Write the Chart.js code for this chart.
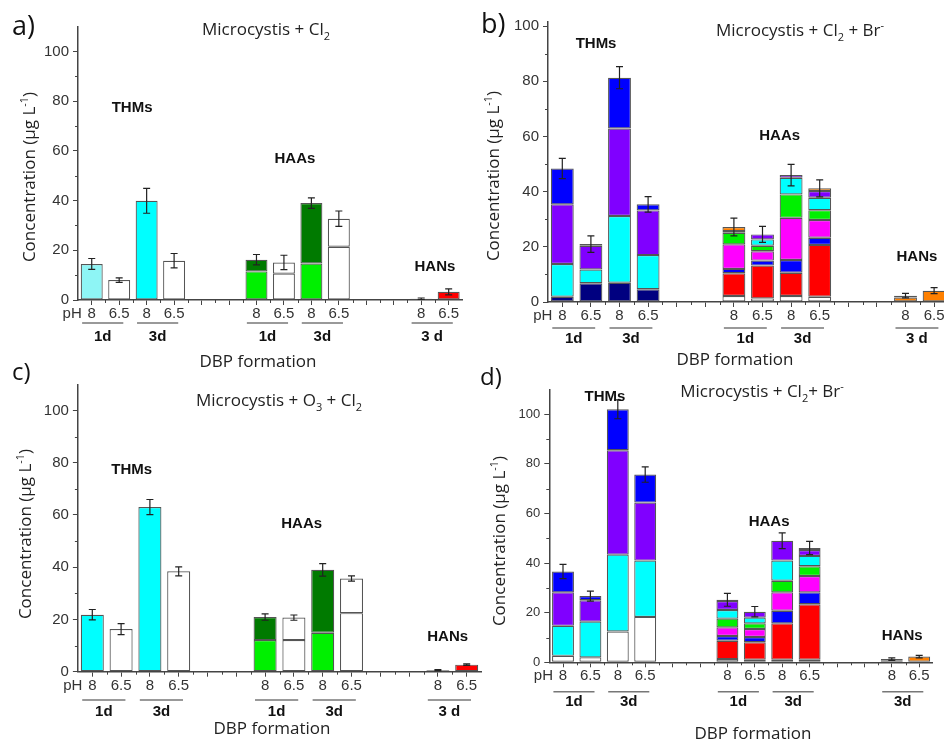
<!DOCTYPE html>
<html>
<head>
<meta charset="utf-8">
<title>DBP formation</title>
<script src="https://cdn.jsdelivr.net/npm/chart.js@4.4.1/dist/chart.umd.min.js"></script>
<style>
  html, body { margin: 0; padding: 0; background: #fff; width: 944px; height: 742px; overflow: hidden; }
  .panel { position: absolute; }
</style>
</head>
<body>
<div class="panel" style="left:0;top:0;width:470px;height:370px"><canvas id="ca"></canvas></div>
<div class="panel" style="left:470px;top:0;width:480px;height:370px"><canvas id="cb"></canvas></div>
<div class="panel" style="left:0;top:350px;width:490px;height:392px"><canvas id="cc"></canvas></div>
<div class="panel" style="left:470px;top:350px;width:474px;height:392px"><canvas id="cd"></canvas></div>
<script>
(function () {
  "use strict";

  // ---- categories (14 slots on the x axis, pH of each bar) ----
  const N_SLOTS = 14;
  const X_LABELS = ["8", "6.5", "8", "6.5", "", "", "8", "6.5", "8", "6.5", "", "", "8", "6.5"];
  const Y_TICKS = [0, 20, 40, 60, 80, 100];
  const THM_SLOTS = [0, 1, 2, 3];
  const HAA_SLOTS = [6, 7, 8, 9];
  const HAN_SLOTS = [12, 13];
  const DAY_PAIRS = [[0, 1, "1d"], [2, 3, "3d"], [6, 7, "1d"], [8, 9, "3d"], [12, 13, "3 d"]];
  const GROUP_NAMES = ["THMs", "HAAs", "HANs"];

  // ---- a) Microcystis + Cl2 (segment heights, µg/L) ----
  const a_thm_lightcyan = [14.5, null, null, null];
  const a_thm_cyan = [null, null, 39.9, null];
  const a_thm_white = [null, 8.0, null, 15.8];
  const a_haa_lime = [11.5, null, 14.7, null];
  const a_haa_white1 = [null, 10.6, null, 21.4];
  const a_haa_green = [4.7, null, 24.3, null];
  const a_haa_white2 = [null, 4.5, null, 11.3];
  const a_han_red = [0.5, 3.3];
  const a_err_thm = [2.2, 0.9, 5.0, 2.9];
  const a_err_haa = [2.1, 2.9, 2.1, 3.1];
  const a_err_han = [0.3, 1.2];

  // ---- b) Microcystis + Cl2 + Br- ----
  const b_thm_navy = [1.9, 6.8, 7.0, 4.6];
  const b_thm_cyan = [11.9, 5.0, 24.2, 12.4];
  const b_thm_purple = [21.6, 8.6, 31.7, 16.2];
  const b_thm_blue = [13.0, 0.6, 18.4, 2.2];
  const b_haa_white = [2.2, 1.3, 2.2, 1.9];
  const b_haa_red = [8.2, 11.9, 8.4, 18.8];
  const b_haa_blue = [1.6, 1.8, 4.6, 2.6];
  const b_haa_magenta = [8.9, 3.4, 15.3, 6.4];
  const b_haa_green = [4.2, 2.0, 8.5, 3.6];
  const b_haa_cyan = [0.6, 2.3, 6.0, 4.5];
  const b_haa_purple = [null, 1.8, 1.0, 2.4];
  const b_haa_orange = [1.5, null, null, 1.0];
  const b_han_orange = [1.6, 4.1];
  const b_han_blue = [0.7, null];
  const b_err_thm = [3.7, 3.0, 4.0, 2.8];
  const b_err_haa = [3.2, 2.9, 3.9, 3.1];
  const b_err_han = [0.8, 1.1];

  // ---- c) Microcystis + O3 + Cl2 ----
  const c_thm_cyan = [21.8, null, 63.0, null];
  const c_thm_white = [null, 16.3, null, 38.4];
  const c_haa_lime = [12.1, null, 14.9, null];
  const c_haa_white1 = [null, 12.1, null, 22.4];
  const c_haa_green = [8.8, null, 24.1, null];
  const c_haa_white2 = [null, 8.6, null, 13.3];
  const c_han_red = [0.6, 2.7];
  const c_err_thm = [2.0, 2.1, 2.9, 1.7];
  const c_err_haa = [1.2, 1.0, 2.4, 1.0];
  const c_err_han = [0.2, 0.3];

  // ---- d) Microcystis + Cl2 + Br- ----
  const d_thm_white = [2.6, 2.0, 12.4, 18.3];
  const d_thm_cyan = [12.1, 14.4, 31.0, 22.7];
  const d_thm_purple = [13.5, 8.6, 42.1, 23.4];
  const d_thm_blue = [8.4, 1.7, 16.5, 11.3];
  const d_haa_white = [1.3, 1.0, 1.0, 1.0];
  const d_haa_red = [7.4, 7.1, 14.7, 22.4];
  const d_haa_blue = [1.9, 2.1, 5.1, 4.8];
  const d_haa_magenta = [3.5, 3.2, 7.4, 6.6];
  const d_haa_green = [3.5, 2.3, 4.7, 3.9];
  const d_haa_cyan = [3.5, 2.3, 8.1, 4.2];
  const d_haa_purple = [3.6, 2.4, 8.0, 2.4];
  const d_haa_orange = [0.5, null, null, 0.8];
  const d_han_orange = [0.6, 2.3];
  const d_han_blue = [0.7, null];
  const d_err_thm = [2.9, 2.0, 3.8, 3.1];
  const d_err_haa = [2.6, 2.1, 3.2, 2.7];
  const d_err_han = [0.5, 0.5];

  const COLORS = {
    lightcyan: "#8ef5f5",
    cyan: "#00ffff",
    white: "#ffffff",
    lime: "#00f000",
    green: "#007a00",
    red: "#ff0000",
    navy: "#000080",
    blue: "#0000ff",
    purple: "#8000ff",
    magenta: "#ff00ff",
    orange: "#ff8000",
  };
  const EDGE = "#555";
  const AXIS = "#444";
  const FONT_TICK = 'Arial, "Liberation Sans", sans-serif';
  const FONT_TEXT = '"Open Sans", Arial, sans-serif';

  const PANELS = [
    {
      canvas: "ca", w: 470, h: 370, max: 110, tickSize: 15,
      area: { left: 78, right: 462.4, top: 26.6, bottom: 300 },
      series: [
        [THM_SLOTS, a_thm_lightcyan, "lightcyan"], [THM_SLOTS, a_thm_cyan, "cyan"], [THM_SLOTS, a_thm_white, "white"],
        [HAA_SLOTS, a_haa_lime, "lime"], [HAA_SLOTS, a_haa_white1, "white"],
        [HAA_SLOTS, a_haa_green, "green"], [HAA_SLOTS, a_haa_white2, "white"],
        [HAN_SLOTS, a_han_red, "red"],
      ],
      errors: [[THM_SLOTS, a_err_thm], [HAA_SLOTS, a_err_haa], [HAN_SLOTS, a_err_han]],
      letter: { text: "a)", x: 12, y: 35, size: 27 },
      title: { parts: [["Microcystis + Cl", ""], ["2", "sub"]], x: 266, y: 35 },
      yTitle: { x: 35, y: 177 },
      xTitle: { x: 258, y: 367 },
      lineY: 323, dayY: 337, hanDay: "3 d",
      notes: [[1.47, 77.2], [7.4, 56.7], [12.5, 13.4]],
    },
    {
      canvas: "cb", w: 480, h: 370, max: 101.5, tickSize: 15,
      area: { left: 78, right: 478.4, top: 22, bottom: 302 },
      series: [
        [THM_SLOTS, b_thm_navy, "navy"], [THM_SLOTS, b_thm_cyan, "cyan"],
        [THM_SLOTS, b_thm_purple, "purple"], [THM_SLOTS, b_thm_blue, "blue"],
        [HAA_SLOTS, b_haa_white, "white"], [HAA_SLOTS, b_haa_red, "red"], [HAA_SLOTS, b_haa_blue, "blue"],
        [HAA_SLOTS, b_haa_magenta, "magenta"], [HAA_SLOTS, b_haa_green, "lime"], [HAA_SLOTS, b_haa_cyan, "cyan"],
        [HAA_SLOTS, b_haa_purple, "purple"], [HAA_SLOTS, b_haa_orange, "orange"],
        [HAN_SLOTS, b_han_orange, "orange"], [HAN_SLOTS, b_han_blue, "blue"],
      ],
      errors: [[THM_SLOTS, b_err_thm], [HAA_SLOTS, b_err_haa], [HAN_SLOTS, b_err_han]],
      letter: { text: "b)", x: 11, y: 33, size: 27 },
      title: { parts: [["Microcystis + Cl", ""], ["2", "sub"], [" + Br", ""], ["-", "sup"]], x: 330, y: 36 },
      yTitle: { x: 29, y: 176 },
      xTitle: { x: 265, y: 365 },
      lineY: 328, dayY: 339, hanDay: "3 d",
      notes: [[1.18, 93.4], [7.6, 60.1], [12.4, 16.4]],
    },
    {
      canvas: "cc", w: 490, h: 392, max: 110, tickSize: 15,
      area: { left: 77.9, right: 481.1, top: 34.3, bottom: 321.7 },
      series: [
        [THM_SLOTS, c_thm_cyan, "cyan"], [THM_SLOTS, c_thm_white, "white"],
        [HAA_SLOTS, c_haa_lime, "lime"], [HAA_SLOTS, c_haa_white1, "white"],
        [HAA_SLOTS, c_haa_green, "green"], [HAA_SLOTS, c_haa_white2, "white"],
        [HAN_SLOTS, c_han_red, "red"],
      ],
      errors: [[THM_SLOTS, c_err_thm], [HAA_SLOTS, c_err_haa], [HAN_SLOTS, c_err_han]],
      letter: { text: "c)", x: 12, y: 30, size: 24 },
      title: { parts: [["Microcystis + O", ""], ["3", "sub"], [" + Cl", ""], ["2", "sub"]], x: 279, y: 56 },
      yTitle: { x: 31, y: 184 },
      xTitle: { x: 272, y: 384 },
      lineY: 350, dayY: 362, hanDay: "3 d",
      notes: [[1.37, 77.2], [7.27, 56.5], [12.34, 13.4]],
    },
    {
      canvas: "cd", w: 474, h: 392, max: 110, tickSize: 13,
      area: { left: 79.3, right: 462.9, top: 39.5, bottom: 312.3 },
      series: [
        [THM_SLOTS, d_thm_white, "white"], [THM_SLOTS, d_thm_cyan, "cyan"],
        [THM_SLOTS, d_thm_purple, "purple"], [THM_SLOTS, d_thm_blue, "blue"],
        [HAA_SLOTS, d_haa_white, "white"], [HAA_SLOTS, d_haa_red, "red"], [HAA_SLOTS, d_haa_blue, "blue"],
        [HAA_SLOTS, d_haa_magenta, "magenta"], [HAA_SLOTS, d_haa_green, "lime"], [HAA_SLOTS, d_haa_cyan, "cyan"],
        [HAA_SLOTS, d_haa_purple, "purple"], [HAA_SLOTS, d_haa_orange, "orange"],
        [HAN_SLOTS, d_han_orange, "orange"], [HAN_SLOTS, d_han_blue, "blue"],
      ],
      errors: [[THM_SLOTS, d_err_thm], [HAA_SLOTS, d_err_haa], [HAN_SLOTS, d_err_han]],
      letter: { text: "d)", x: 10, y: 35, size: 24 },
      title: { parts: [["Microcystis + Cl", ""], ["2", "sub"], ["+ Br", ""], ["-", "sup"]], x: 292, y: 47 },
      yTitle: { x: 35, y: 191 },
      xTitle: { x: 283, y: 389 },
      lineY: 341.7, dayY: 352, hanDay: "3d",
      notes: [[1.53, 107.1], [7.52, 56.5], [12.38, 10.7]],
    },
  ];

  function place(slots, vals) {
    const out = new Array(N_SLOTS).fill(null);
    slots.forEach((s, i) => { out[s] = vals[i] == null ? null : vals[i]; });
    return out;
  }

  // text with sub/superscript pieces, drawn on the alphabetic baseline
  function drawRich(ctx, parts, x, y, size) {
    const small = Math.round(size * 0.62);
    let w = 0;
    parts.forEach(([t, m]) => {
      ctx.font = `${m ? small : size}px ${FONT_TEXT}`;
      w += ctx.measureText(t).width;
    });
    let cx = x - w / 2;
    ctx.textAlign = "left";
    ctx.textBaseline = "alphabetic";
    parts.forEach(([t, m]) => {
      ctx.font = `${m ? small : size}px ${FONT_TEXT}`;
      const dy = m === "sub" ? size * 0.28 : m === "sup" ? -size * 0.42 : 0;
      ctx.fillText(t, cx, y + dy);
      cx += ctx.measureText(t).width;
    });
  }

  function makeDecor(p) {
    return {
      id: "decor",
      afterDatasetsDraw(chart) {
        const { ctx, scales } = chart;
        const xs = scales.x, ys = scales.y;
        ctx.save();
        // error bars on top of each stacked bar
        ctx.strokeStyle = "#222";
        ctx.lineWidth = 1.2;
        p.errors.forEach(([slots, errs]) => {
          slots.forEach((s, i) => {
            if (errs[i] == null) return;
            let total = 0;
            chart.data.datasets.forEach((ds) => { total += ds.data[s] || 0; });
            const x = xs.getPixelForValue(s);
            const y1 = ys.getPixelForValue(total + errs[i]);
            const y2 = ys.getPixelForValue(Math.max(0, total - errs[i]));
            ctx.beginPath();
            ctx.moveTo(x, y1); ctx.lineTo(x, y2);
            ctx.moveTo(x - 3.5, y1); ctx.lineTo(x + 3.5, y1);
            ctx.moveTo(x - 3.5, y2); ctx.lineTo(x + 3.5, y2);
            ctx.stroke();
          });
        });
        ctx.restore();
      },
      afterDraw(chart) {
        const { ctx, scales, chartArea } = chart;
        const xs = scales.x, ys = scales.y;
        ctx.save();
        // minor ticks
        ctx.strokeStyle = AXIS;
        ctx.lineWidth = 1;
        ctx.beginPath();
        for (let v = 10; v < p.max; v += 20) {
          const y = Math.round(ys.getPixelForValue(v)) + 0.5;
          ctx.moveTo(chartArea.left - 3, y); ctx.lineTo(chartArea.left, y);
        }
        for (let i = 0; i < N_SLOTS - 1; i++) {
          const x = Math.round((xs.getPixelForValue(i) + xs.getPixelForValue(i + 1)) / 2) + 0.5;
          ctx.moveTo(x, chartArea.bottom); ctx.lineTo(x, chartArea.bottom + 3);
        }
        ctx.stroke();

        // pH label in front of the tick labels
        ctx.fillStyle = "#333";
        ctx.font = `15px ${FONT_TICK}`;
        ctx.textAlign = "right";
        ctx.textBaseline = "middle";
        ctx.fillText("pH", xs.getPixelForValue(0) - 10, chartArea.bottom + 14);

        // day grouping lines and labels
        ctx.strokeStyle = "#777";
        ctx.lineWidth = 1.5;
        ctx.font = `bold 15px ${FONT_TICK}`;
        ctx.textAlign = "center";
        ctx.fillStyle = "#111";
        DAY_PAIRS.forEach(([i, j, lbl]) => {
          const x1 = xs.getPixelForValue(i - 0.35);
          const x2 = xs.getPixelForValue(j + 0.15);
          ctx.beginPath();
          ctx.moveTo(x1, p.lineY); ctx.lineTo(x2, p.lineY);
          ctx.stroke();
          ctx.fillText(i === 12 ? p.hanDay : lbl, (x1 + x2) / 2, p.dayY);
        });

        // group names
        ctx.font = `bold 15px ${FONT_TICK}`;
        p.notes.forEach(([sx, v], k) => {
          ctx.fillText(GROUP_NAMES[k], xs.getPixelForValue(sx), ys.getPixelForValue(v));
        });

        // panel letter, title, axis titles
        ctx.fillStyle = "#111";
        ctx.textAlign = "left";
        ctx.textBaseline = "alphabetic";
        ctx.font = `${p.letter.size}px ${FONT_TEXT}`;
        ctx.fillText(p.letter.text, p.letter.x, p.letter.y);

        ctx.fillStyle = "#222";
        drawRich(ctx, p.title.parts, p.title.x, p.title.y, 17);
        drawRich(ctx, [["DBP formation", ""]], p.xTitle.x, p.xTitle.y, 17);

        ctx.translate(p.yTitle.x, p.yTitle.y);
        ctx.rotate(-Math.PI / 2);
        drawRich(ctx, [["Concentration (\u00b5g L", ""], ["-1", "sup"], [")", ""]], 0, 0, 17);
        ctx.restore();
      },
    };
  }

  PANELS.forEach((p) => {
    const datasets = p.series.map(([slots, vals, col]) => ({
      data: place(slots, vals),
      backgroundColor: COLORS[col],
      borderColor: EDGE,
      borderWidth: 1.2,
      borderSkipped: false,
      barPercentage: 0.8,
      categoryPercentage: 1,
    }));

    new Chart(document.getElementById(p.canvas), {
      type: "bar",
      data: { labels: X_LABELS, datasets },
      options: {
        responsive: true,
        maintainAspectRatio: false,
        animation: false,
        layout: { padding: { top: p.area.top, right: p.w - p.area.right, left: 0, bottom: 0 } },
        plugins: { legend: { display: false }, tooltip: { enabled: false } },
        scales: {
          x: {
            stacked: true,
            offset: true,
            grid: { offset: false, drawOnChartArea: false, tickLength: 5, color: AXIS },
            border: { color: AXIS, width: 1.5 },
            ticks: {
              autoSkip: false, maxRotation: 0, padding: 0, color: "#333",
              font: { family: FONT_TICK, size: 15 },
            },
            afterFit(s) { s.height = p.h - p.area.bottom; },
          },
          y: {
            stacked: true,
            min: 0,
            max: p.max,
            ticks: {
              padding: 4, color: "#333",
              font: { family: FONT_TICK, size: p.tickSize },
            },
            afterBuildTicks(s) { s.ticks = Y_TICKS.map((v) => ({ value: v })); },
            grid: { drawOnChartArea: false, tickLength: 5, color: AXIS },
            border: { color: AXIS, width: 1.5 },
            afterFit(s) { s.width = p.area.left; },
          },
        },
      },
      plugins: [makeDecor(p)],
    });
  });
})();
</script>
</body>
</html>
